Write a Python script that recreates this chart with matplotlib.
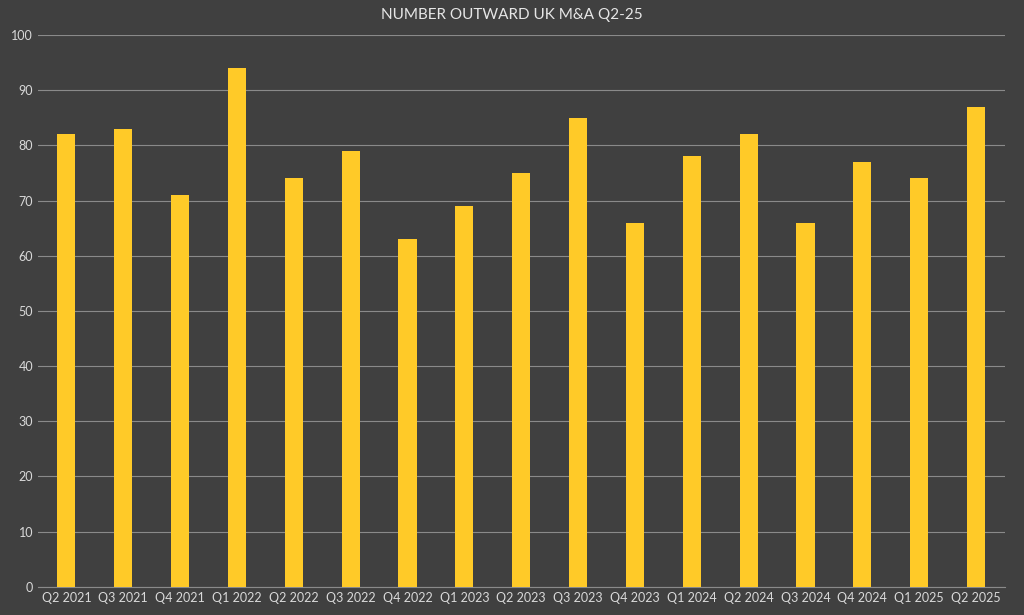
import matplotlib.pyplot as plt

quarters = ['Q2 2021', 'Q3 2021', 'Q4 2021', 'Q1 2022', 'Q2 2022', 'Q3 2022', 'Q4 2022', 'Q1 2023',
            'Q2 2023', 'Q3 2023', 'Q4 2023', 'Q1 2024', 'Q2 2024', 'Q3 2024', 'Q4 2024', 'Q1 2025', 'Q2 2025']
deals = [82, 83, 71, 94, 74, 79, 63, 69, 75, 85, 66, 78, 82, 66, 77, 74, 87]

bg = '#404040'
plt.rcParams['font.family'] = ['Lato', 'DejaVu Sans']

fig = plt.figure(figsize=(10.24, 6.15), dpi=100, facecolor=bg)
ax = fig.add_axes([0.037, 0.046, 0.944, 0.897], facecolor=bg)

ax.bar(range(len(deals)), deals, width=0.32, color='#FFCA28', zorder=3)
ax.set_xlim(-0.5, len(deals) - 0.5)
ax.set_ylim(0, 100)
ax.set_yticks(range(0, 101, 10))
ax.set_xticks(range(len(deals)))
ax.set_xticklabels(quarters)
ax.grid(axis='y', color='#8a8a8a', linewidth=0.8, zorder=0)
ax.tick_params(colors='#d9d9d9', labelsize=9, length=0)
for s in ['top', 'right', 'left']:
    ax.spines[s].set_visible(False)
ax.spines['bottom'].set_color('#8a8a8a')

fig.text(0.5, 0.975, 'NUMBER OUTWARD UK M&A Q2-25', ha='center', va='center',
         color='#e6e6e6', fontsize=11)

fig.savefig('out.png', facecolor=bg)
